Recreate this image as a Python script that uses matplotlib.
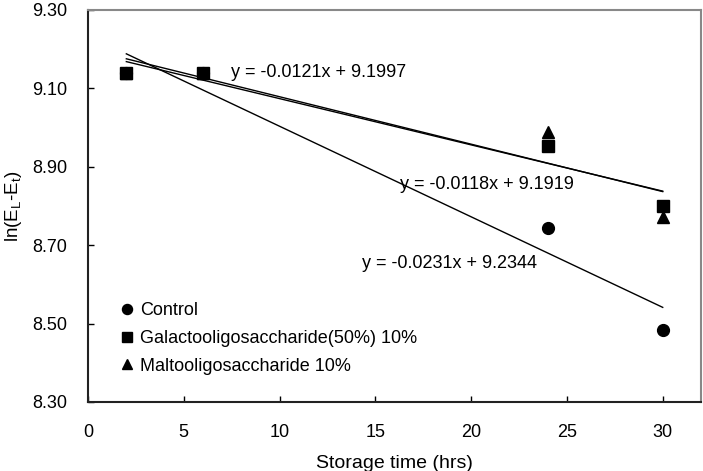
import numpy as np
import matplotlib
matplotlib.use('Agg')
import matplotlib.pyplot as plt

plt.rcParams['font.family'] = ['Liberation Sans', 'DejaVu Sans']

# Storage time (hrs)
hours = [2, 6, 24, 30]

# ln(EL-Et)
control = [9.14, 9.14, 8.744, 8.484]
galacto = [9.14, 9.14, 8.954, 8.80]
malto = [9.14, 9.14, 8.989, 8.772]

series_names = ['Control', 'Galactooligosaccharide(50%) 10%', 'Maltooligosaccharide 10%']

# trend line coefficients (slope, intercept) as printed on the chart
fit_control = (-0.0231, 9.2344)
fit_galacto = (-0.0118, 9.1919)
fit_malto = (-0.0121, 9.1997)

fig = plt.figure(figsize=(7.03, 4.71), dpi=100)
ax = fig.add_axes([0.1252, 0.1465, 0.8720, 0.8323])

ax.plot(hours, control, 'o', color='black', ms=8.5, label=series_names[0], zorder=3)
ax.plot(hours, galacto, 's', color='black', ms=8.5, label=series_names[1], zorder=3)
ax.plot(hours, malto, '^', color='black', ms=8.5, label=series_names[2], zorder=3)

xfit = np.array([hours[0], hours[-1]])
for slope, icpt in [fit_control, fit_galacto, fit_malto]:
    ax.plot(xfit, slope * xfit + icpt, color='black', lw=1.0, zorder=2)

# equation labels
fs = 13
ax.text(7.45, 9.14, 'y = %.4fx + %.4f' % fit_malto, fontsize=fs, va='center',
        bbox=dict(facecolor='white', edgecolor='none', pad=1), zorder=4)
ax.text(16.3, 8.856, 'y = %.4fx + %.4f' % fit_galacto, fontsize=fs, va='center', zorder=4)
ax.text(14.3, 8.654, 'y = %.4fx + %.4f' % fit_control, fontsize=fs, va='center', zorder=4)

ax.set_xlim(0, 32)
ax.set_ylim(8.30, 9.30)
ax.set_xticks([0, 5, 10, 15, 20, 25, 30])
ax.set_yticks([8.30, 8.50, 8.70, 8.90, 9.10, 9.30])
ax.set_yticklabels(['%.2f' % v for v in [8.30, 8.50, 8.70, 8.90, 9.10, 9.30]])
ax.tick_params(direction='in', length=4, width=1, labelsize=fs)
ax.tick_params(axis='x', pad=16)
ax.tick_params(axis='y', pad=15)

for side in ['left', 'bottom']:
    ax.spines[side].set_linewidth(1.5)
    ax.spines[side].set_color('#222222')
for side in ['top', 'right']:
    ax.spines[side].set_linewidth(1.5)
    ax.spines[side].set_color('#888888')

ax.set_xlabel('Storage time (hrs)', fontsize=14)
ax.xaxis.set_label_coords(0.5, -0.135)
ax.set_ylabel('ln(E$_\\mathregular{L}$-E$_\\mathregular{t}$)', fontsize=13.5)
ax.yaxis.set_label_coords(-0.105, 0.5)

ax.legend(loc='upper left', bbox_to_anchor=(0.055, 0.255), frameon=False, fontsize=fs,
          handlelength=0.6, handletextpad=0.4, labelspacing=0.6, borderaxespad=0,
          borderpad=0, markerscale=0.85)

fig.savefig('out.png', dpi=100)
